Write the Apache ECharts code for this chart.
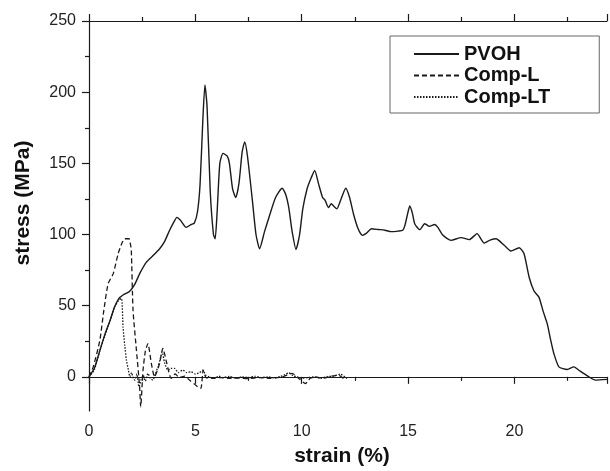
<!DOCTYPE html>
<html>
<head>
<meta charset="utf-8">
<script src="https://cdn.jsdelivr.net/npm/echarts@6/dist/echarts.min.js"></script>
<style>
    html, body { margin: 0; padding: 0; background: #fff; }
    #chart { width: 610px; height: 471px; }
</style>
</head>
<body>
<div id="chart"></div>
<script>
// data (strain %, stress MPa)
let pvohStrain = [0, 0.25, 0.5, 0.75, 1.0, 1.2, 1.4, 1.6, 1.9, 2.15, 2.4, 2.7, 3.0, 3.32, 3.55, 3.79, 4.0, 4.13, 4.3, 4.57,
    4.8, 4.95, 5.1, 5.22, 5.35, 5.45, 5.55, 5.7, 5.85, 5.93, 6.02, 6.15, 6.3, 6.5, 6.6, 6.75, 6.9, 7.05, 7.2, 7.32,
    7.45, 7.68, 7.85, 8.02, 8.25, 8.46, 8.77, 9.08, 9.25, 9.39, 9.55, 9.73, 9.9, 10.05, 10.25, 10.45, 10.61, 10.79, 10.98, 11.1,
    11.26, 11.39, 11.5, 11.65, 11.85, 12.07, 12.25, 12.43, 12.65, 12.85, 13.05, 13.28, 13.6, 13.91, 14.2, 14.53, 14.75, 14.85, 15.0, 15.08,
    15.2, 15.31, 15.55, 15.78, 16.0, 16.25, 16.4, 16.64, 17.02, 17.49, 17.88, 18.24, 18.58, 18.85, 19.13, 19.52, 19.83, 20.22, 20.45, 20.69,
    20.92, 21.15, 21.35, 21.54, 21.7, 21.85, 22.09, 22.48, 22.79, 23.0, 23.25, 23.5, 23.8, 24.35];
let pvohStress = [0, 6, 18, 30, 40, 49, 55, 57.5, 60, 65, 73, 80.6, 85, 90, 95, 103, 109, 112, 110, 105,
    107, 108, 116, 135, 180, 205, 190, 130, 100, 97, 115, 150, 157, 155, 150, 132, 126, 136, 158, 165,
    155, 124, 100, 90, 102, 112, 126, 132.5, 128, 119, 102, 89.5, 100, 118, 132, 140, 145, 135.6, 126, 124,
    119, 121.6, 120, 118, 125, 132.5, 126, 114.6, 104, 99.4, 101, 104, 103.5, 103, 102, 102.4, 103, 106.4, 116, 120,
    115, 107.6, 103.4, 107.6, 105.7, 107, 105, 99.4, 95.9, 97.8, 96.4, 100.6, 94, 96, 97, 92.4, 88.4, 90.7, 86.5, 70,
    60.3, 56, 46, 37.4, 26, 16.4, 7, 5.2, 7, 5, 2.4, 0, -2.3, -1.8];

let compLStrain = [0, 0.2, 0.51, 0.7, 0.9, 1.14, 1.37, 1.55, 1.68, 1.88, 1.95, 1.99, 2.07, 2.23, 2.38, 2.43, 2.54, 2.65, 2.77, 2.93,
    3.08, 3.2, 3.32, 3.47, 3.66, 3.86, 4.05, 4.25, 4.5, 4.72, 4.95, 5.11, 5.26, 5.37, 5.5, 5.8, 6.2, 6.6, 7.0, 7.5,
    8.0, 8.5, 9.08, 9.55, 9.85, 10.17, 10.4, 10.64, 11.0, 11.4, 11.73, 12.04];
let compLStress = [0, 7, 25.7, 47, 65.5, 72.5, 86.5, 94, 97, 97, 93, 88.8, 46.8, 18.7, -7, -21, 4.7, 18, 23.4, 9.4,
    0, 4, 9.4, 20, 9.4, -1, 2, -0.5, 0.5, -2.3, -5, -7, -8, 4.7, -0.5, -1, -0.5, -1, -0.8, -1.2,
    -0.5, -1, 0, 2.4, -1, -4.7, -1, 0, -1, 0.5, 1.2, -2.3];

let compLTStrain = [0, 0.25, 0.5, 0.75, 1.0, 1.2, 1.4, 1.53, 1.6, 1.68, 1.76, 1.85, 1.92, 2.0, 2.08, 2.15, 2.25, 2.35, 2.45, 2.55,
    2.65, 2.77, 2.88, 3.0, 3.12, 3.24, 3.34, 3.44, 3.55, 3.71, 3.85, 4.02, 4.2, 4.41, 4.6, 4.8, 5.0, 5.2, 5.34, 5.5,
    5.65, 5.9, 6.1, 6.3, 6.6, 6.9, 7.2, 7.5, 7.8, 8.1, 8.4, 8.7, 9.0, 9.2, 9.39, 9.6, 9.8, 10.0, 10.3, 10.6,
    10.9, 11.2, 11.5, 11.81, 12.12];
let compLTStress = [0, 5, 18, 29, 40, 49, 54, 55, 35, 22, 11.7, 5, 0, 3, -1, -2.3, 2, -7, -2, 1,
    -3, 2.4, -1, -2.3, 2, 7, 12, 17.5, 10, 4.7, 6, 5.9, 3, 4.7, 3, 3.5, 2, 3, 4.7, 1,
    0, -1, 0.5, -0.5, 0.3, -0.8, 0, -0.5, 0.3, -0.5, 0, -0.7, 0.2, 1.5, 2.8, 0.8, 0, -1, -0.5, 0,
    -1, 0.2, 0.5, 1.9, -1.2];

let seriesNames = ['PVOH', 'Comp-L', 'Comp-LT'];

let xMin = 0, xMax = 24.35;
let yMin = -24, yMax = 250;
let yTicks = [0, 50, 100, 150, 200, 250];

let font = '"Liberation Sans", Arial, sans-serif';
let ink = '#1a1a1a';

let zip = (xs, ys) => xs.map((x, i) => [x, ys[i]]);

let axisCommon = {
    axisLine: { lineStyle: { color: ink, width: 1.2 } },
    axisTick: { show: true, inside: false, length: 7, lineStyle: { color: ink, width: 1.2 } },
    minorTick: { show: true, splitNumber: 2, length: 4, lineStyle: { color: ink, width: 1.2 } },
    splitLine: { show: false },
    minorSplitLine: { show: false }
};

let option = {
    animation: false,
    backgroundColor: '#fff',
    grid: {
        left: 89,
        right: 0,
        top: 21,
        bottom: 60
    },
    legend: {
        data: seriesNames,
        orient: 'vertical',
        left: 390,
        top: 36,
        itemWidth: 45,
        itemHeight: 14,
        itemGap: 1.5,
        padding: [8, 49, 6, 23],
        borderColor: '#666',
        borderWidth: 1,
        // only the line sample, no symbol in the middle
        itemStyle: { opacity: 0, borderWidth: 0 },
        textStyle: {
            fontFamily: font,
            fontSize: 20,
            fontWeight: 'bold',
            color: '#111',
            lineHeight: 20
        }
    },
    xAxis: [
        Object.assign({
            type: 'value',
            min: xMin,
            max: xMax,
            position: 'bottom',
            axisLabel: {
                margin: 13,
                fontFamily: font,
                fontSize: 16,
                color: '#222',
                // hide the label that ECharts adds at the cut-off end
                formatter: v => (v % 5 === 0 ? String(v) : '')
            }
        }, axisCommon),
        Object.assign({
            type: 'value',
            min: xMin,
            max: xMax,
            position: 'top',
            axisLabel: { show: false }
        }, axisCommon)
    ],
    yAxis: [
        Object.assign({}, axisCommon, {
            type: 'value',
            min: yMin,
            max: yMax,
            splitNumber: 5,
            position: 'left',
            axisTick: {
                show: true, inside: false, length: 7,
                customValues: yTicks,
                lineStyle: { color: ink, width: 1.2 }
            },
            axisLabel: {
                margin: 13,
                fontFamily: font,
                fontSize: 16,
                color: '#222',
                formatter: v => (v % 50 === 0 ? String(v) : '')
            }
        })
    ],
    graphic: [
        {
            type: 'text',
            x: 342,
            y: 456,
            style: {
                text: 'strain (%)',
                font: 'bold 21px ' + font,
                fill: '#111',
                align: 'center',
                verticalAlign: 'middle'
            }
        },
        {
            type: 'text',
            x: 23,
            y: 203,
            rotation: Math.PI / 2,
            style: {
                text: 'stress (MPa)',
                font: 'bold 21px ' + font,
                fill: '#111',
                align: 'center',
                verticalAlign: 'middle'
            }
        }
    ],
    series: [
        {
            name: seriesNames[0],
            type: 'line',
            data: zip(pvohStrain, pvohStress),
            symbol: 'none',
            smooth: 0.2,
            lineStyle: { color: ink, width: 1.4, type: 'solid' },
            itemStyle: { color: ink }
        },
        {
            name: seriesNames[1],
            type: 'line',
            data: zip(compLStrain, compLStress),
            symbol: 'none',
            smooth: 0.2,
            lineStyle: { color: ink, width: 1.3, type: [5, 3] },
            itemStyle: { color: ink }
        },
        {
            name: seriesNames[2],
            type: 'line',
            data: zip(compLTStrain, compLTStress),
            symbol: 'none',
            smooth: 0.2,
            lineStyle: { color: ink, width: 1.3, type: [1.5, 1.5] },
            itemStyle: { color: ink }
        }
    ]
};

let mychart = echarts.init(document.getElementById('chart'));
mychart.setOption(option);
</script>
</body>
</html>
